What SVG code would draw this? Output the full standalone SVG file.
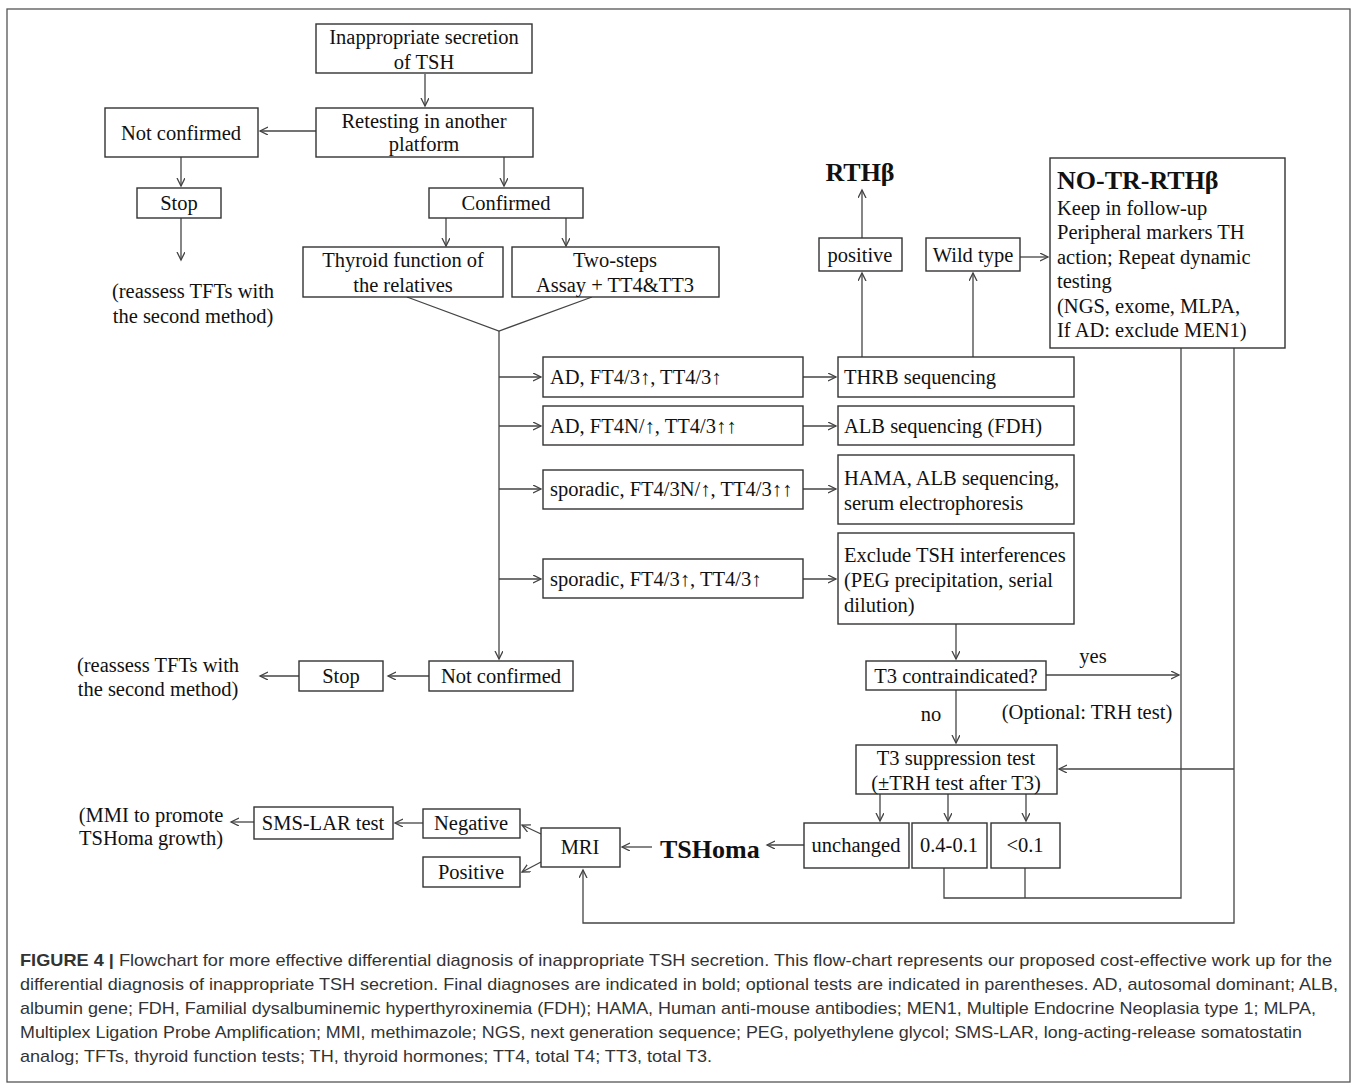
<svg xmlns="http://www.w3.org/2000/svg" width="1358" height="1089" viewBox="0 0 1358 1089">
<style>
.b{fill:#fff;stroke:#333;stroke-width:1.4}
.t{font-family:"Liberation Serif","Times New Roman",serif;font-size:20.5px;fill:#111}
.c{text-anchor:middle}
.bd{font-weight:bold;font-size:26px}
.l{fill:none;stroke:#444;stroke-width:1.3}
.a{marker-end:url(#ar)}
.cap{font-family:"Liberation Sans",Arial,sans-serif;font-size:17px;fill:#333}
</style>
<defs>
<marker id="ar" markerUnits="userSpaceOnUse" markerWidth="10" markerHeight="10" refX="8" refY="4" orient="auto">
<path d="M0,0 L8,4 L0,8" fill="none" stroke="#444" stroke-width="1.3"/>
</marker>
</defs>
<rect x="7" y="9" width="1343" height="1073" fill="#fff" stroke="#555" stroke-width="1.3"/>

<g id="connectors">
<line class="l a" x1="425" y1="74" x2="425" y2="106"/>
<line class="l a" x1="316" y1="131" x2="260" y2="131"/>
<line class="l a" x1="181" y1="157" x2="181" y2="186"/>
<line class="l a" x1="181" y1="218" x2="181" y2="260"/>
<line class="l a" x1="504" y1="157" x2="504" y2="186"/>
<line class="l a" x1="446" y1="218" x2="446" y2="246"/>
<line class="l a" x1="566" y1="218" x2="566" y2="246"/>
<polyline class="l" points="407,297 499,331 592,297"/>
<line class="l a" x1="499" y1="331" x2="499" y2="659"/>
<line class="l a" x1="499" y1="377" x2="541" y2="377"/>
<line class="l a" x1="499" y1="426" x2="541" y2="426"/>
<line class="l a" x1="499" y1="489" x2="541" y2="489"/>
<line class="l a" x1="499" y1="579" x2="541" y2="579"/>
<line class="l a" x1="803" y1="377" x2="836" y2="377"/>
<line class="l a" x1="803" y1="426" x2="836" y2="426"/>
<line class="l a" x1="803" y1="489" x2="836" y2="489"/>
<line class="l a" x1="803" y1="579" x2="836" y2="579"/>
<line class="l a" x1="862" y1="357" x2="862" y2="273"/>
<line class="l a" x1="973" y1="357" x2="973" y2="273"/>
<line class="l a" x1="862" y1="238" x2="862" y2="190"/>
<line class="l a" x1="1020" y1="257" x2="1048" y2="257"/>
<line class="l a" x1="956" y1="624" x2="956" y2="659"/>
<line class="l a" x1="1046" y1="675" x2="1179" y2="675"/>
<line class="l a" x1="956" y1="690" x2="956" y2="743"/>
<polyline class="l" points="944,868 944,898 1181,898 1181,348"/>
<line class="l" x1="1025" y1="868" x2="1025" y2="898"/>
<polyline class="l a" points="1234,348 1234,923 583,923 583,870"/>
<line class="l a" x1="1234" y1="769" x2="1059" y2="769"/>
<line class="l a" x1="880" y1="794" x2="880" y2="821"/>
<line class="l a" x1="948" y1="794" x2="948" y2="821"/>
<line class="l a" x1="1026" y1="794" x2="1026" y2="821"/>
<line class="l a" x1="804" y1="845" x2="767" y2="845"/>
<line class="l a" x1="652" y1="847" x2="622" y2="847"/>
<line class="l a" x1="541" y1="834" x2="522" y2="825"/>
<line class="l a" x1="541" y1="862" x2="522" y2="872"/>
<line class="l a" x1="423" y1="823" x2="395" y2="823"/>
<line class="l a" x1="254" y1="822" x2="231" y2="822"/>
<line class="l a" x1="429" y1="676" x2="388" y2="676"/>
<line class="l a" x1="299" y1="676" x2="260" y2="676"/>
</g>

<g id="n-start"><rect class="b" x="316" y="24" width="216" height="49"/>
<text class="t c" x="424" y="44">Inappropriate secretion</text><text class="t c" x="424" y="69">of TSH</text></g>
<g id="n-retest"><rect class="b" x="316" y="108" width="217" height="49"/>
<text class="t c" x="424" y="128">Retesting in another</text><text class="t c" x="424" y="151">platform</text></g>
<g id="n-notconf1"><rect class="b" x="105" y="108" width="153" height="49"/>
<text class="t c" x="181" y="140">Not confirmed</text></g>
<g id="n-stop1"><rect class="b" x="137" y="188" width="84" height="30"/>
<text class="t c" x="179" y="210">Stop</text></g>
<g id="n-reassess1"><text class="t c" x="193" y="298">(reassess TFTs with</text><text class="t c" x="193" y="323">the second method)</text></g>
<g id="n-confirmed"><rect class="b" x="429" y="188" width="154" height="30"/>
<text class="t c" x="506" y="210">Confirmed</text></g>
<g id="n-relatives"><rect class="b" x="303" y="247" width="200" height="50"/>
<text class="t c" x="403" y="267">Thyroid function of</text><text class="t c" x="403" y="292">the relatives</text></g>
<g id="n-twosteps"><rect class="b" x="512" y="247" width="207" height="50"/>
<text class="t c" x="615" y="267">Two-steps</text><text class="t c" x="615" y="292">Assay + TT4&amp;TT3</text></g>

<g id="n-c1"><rect class="b" x="543" y="357" width="260" height="40"/>
<text class="t" x="550" y="384">AD, FT4/3↑, TT4/3↑</text></g>
<g id="n-c2"><rect class="b" x="543" y="406" width="260" height="39"/>
<text class="t" x="550" y="433">AD, FT4N/↑, TT4/3↑↑</text></g>
<g id="n-c3"><rect class="b" x="543" y="470" width="260" height="39"/>
<text class="t" x="550" y="496">sporadic, FT4/3N/↑, TT4/3↑↑</text></g>
<g id="n-c4"><rect class="b" x="543" y="559" width="260" height="39"/>
<text class="t" x="550" y="586">sporadic, FT4/3↑, TT4/3↑</text></g>

<g id="n-thrb"><rect class="b" x="838" y="357" width="236" height="40"/>
<text class="t" x="844" y="384">THRB sequencing</text></g>
<g id="n-alb"><rect class="b" x="838" y="406" width="236" height="39"/>
<text class="t" x="844" y="433">ALB sequencing (FDH)</text></g>
<g id="n-hama"><rect class="b" x="838" y="455" width="236" height="69"/>
<text class="t" x="844" y="485">HAMA, ALB sequencing,</text><text class="t" x="844" y="510">serum electrophoresis</text></g>
<g id="n-exclude"><rect class="b" x="838" y="533" width="236" height="91"/>
<text class="t" x="844" y="562">Exclude TSH interferences</text><text class="t" x="844" y="587">(PEG precipitation, serial</text><text class="t" x="844" y="612">dilution)</text></g>

<g id="n-rthb"><text class="t c bd" x="860" y="181">RTHβ</text></g>
<g id="n-positive1"><rect class="b" x="819" y="238" width="83" height="33"/>
<text class="t c" x="860" y="262">positive</text></g>
<g id="n-wild"><rect class="b" x="926" y="238" width="94" height="33"/>
<text class="t c" x="973" y="262">Wild type</text></g>
<g id="n-notr"><rect class="b" x="1050" y="158" width="235" height="190"/>
<text class="t bd" x="1057" y="189">NO-TR-RTHβ</text>
<text class="t" x="1057" y="215">Keep in follow-up</text>
<text class="t" x="1057" y="239">Peripheral markers TH</text>
<text class="t" x="1057" y="264">action; Repeat dynamic</text>
<text class="t" x="1057" y="288">testing</text>
<text class="t" x="1057" y="313">(NGS, exome, MLPA,</text>
<text class="t" x="1057" y="337">If AD: exclude MEN1)</text></g>

<g id="n-notconf2"><rect class="b" x="429" y="661" width="144" height="30"/>
<text class="t c" x="501" y="683">Not confirmed</text></g>
<g id="n-stop2"><rect class="b" x="299" y="661" width="84" height="30"/>
<text class="t c" x="341" y="683">Stop</text></g>
<g id="n-reassess2"><text class="t c" x="158" y="672">(reassess TFTs with</text><text class="t c" x="158" y="696">the second method)</text></g>

<g id="n-t3contra"><rect class="b" x="866" y="661" width="180" height="29"/>
<text class="t c" x="956" y="683">T3 contraindicated?</text></g>
<g id="n-yes"><text class="t c" x="1093" y="663">yes</text></g>
<g id="n-no"><text class="t c" x="931" y="721">no</text></g>
<g id="n-optional"><text class="t c" x="1087" y="719">(Optional: TRH test)</text></g>
<g id="n-t3supp"><rect class="b" x="856" y="745" width="201" height="49"/>
<text class="t c" x="956" y="765">T3 suppression test</text><text class="t c" x="956" y="790">(±TRH test after T3)</text></g>
<g id="n-unchanged"><rect class="b" x="804" y="823" width="105" height="45"/>
<text class="t c" x="856" y="852">unchanged</text></g>
<g id="n-04"><rect class="b" x="912" y="823" width="75" height="45"/>
<text class="t c" x="949" y="852">0.4-0.1</text></g>
<g id="n-01"><rect class="b" x="991" y="823" width="69" height="45"/>
<text class="t c" x="1025" y="852">&lt;0.1</text></g>
<g id="n-tshoma"><text class="t bd" x="660" y="858">TSHoma</text></g>
<g id="n-mri"><rect class="b" x="541" y="828" width="79" height="39"/>
<text class="t c" x="580" y="854">MRI</text></g>
<g id="n-negative"><rect class="b" x="423" y="809" width="97" height="29"/>
<text class="t c" x="471" y="830">Negative</text></g>
<g id="n-positive2"><rect class="b" x="423" y="857" width="97" height="30"/>
<text class="t c" x="471" y="879">Positive</text></g>
<g id="n-smslar"><rect class="b" x="254" y="807" width="139" height="32"/>
<text class="t c" x="323" y="830">SMS-LAR test</text></g>
<g id="n-mmi"><text class="t c" x="151" y="822">(MMI to promote</text><text class="t c" x="151" y="845">TSHoma growth)</text></g>

<g id="caption">
<text class="cap" x="20" y="966" textLength="1312" lengthAdjust="spacingAndGlyphs"><tspan font-weight="bold">FIGURE 4 |</tspan> Flowchart for more effective differential diagnosis of inappropriate TSH secretion. This flow-chart represents our proposed cost-effective work up for the</text>
<text class="cap" x="20" y="990" textLength="1318" lengthAdjust="spacingAndGlyphs">differential diagnosis of inappropriate TSH secretion. Final diagnoses are indicated in bold; optional tests are indicated in parentheses. AD, autosomal dominant; ALB,</text>
<text class="cap" x="20" y="1014" textLength="1296" lengthAdjust="spacingAndGlyphs">albumin gene; FDH, Familial dysalbuminemic hyperthyroxinemia (FDH); HAMA, Human anti-mouse antibodies; MEN1, Multiple Endocrine Neoplasia type 1; MLPA,</text>
<text class="cap" x="20" y="1038" textLength="1282" lengthAdjust="spacingAndGlyphs">Multiplex Ligation Probe Amplification; MMI, methimazole; NGS, next generation sequence; PEG, polyethylene glycol; SMS-LAR, long-acting-release somatostatin</text>
<text class="cap" x="20" y="1062" textLength="692" lengthAdjust="spacingAndGlyphs">analog; TFTs, thyroid function tests; TH, thyroid hormones; TT4, total T4; TT3, total T3.</text>
</g>
</svg>
